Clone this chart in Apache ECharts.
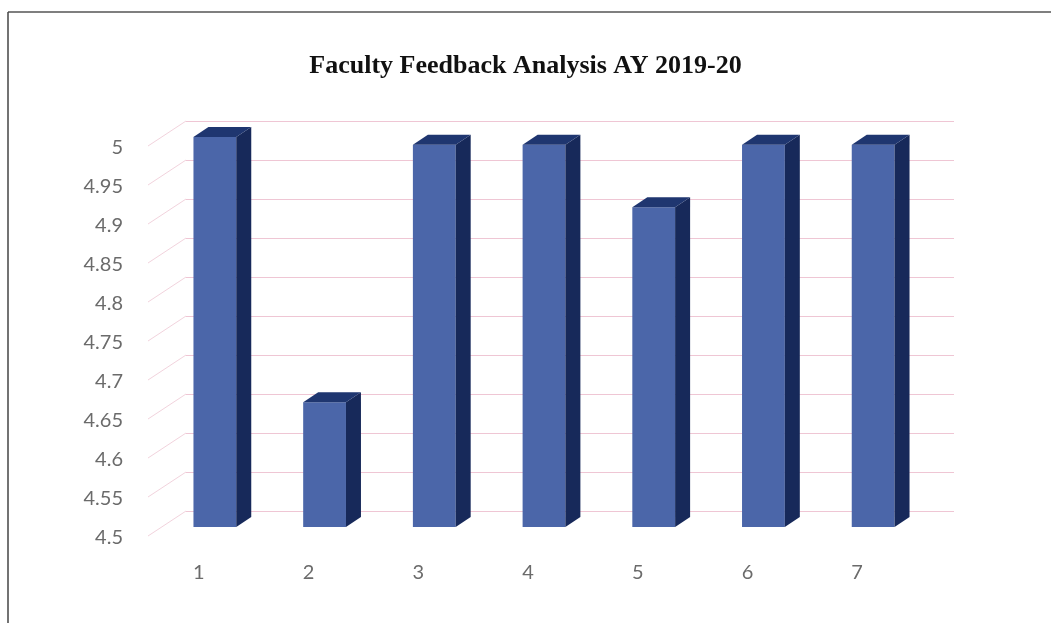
<!DOCTYPE html>
<html>
<head>
<meta charset="utf-8">
<script src="https://cdn.jsdelivr.net/npm/echarts@6/dist/echarts.min.js"></script>
<style>
html,body{margin:0;padding:0;background:#fff;}
#chart{width:1051px;height:623px;}
</style>
</head>
<body>
<div id="chart"></div>
<script>
const titleText = 'Faculty Feedback Analysis AY 2019-20';
const categories = ['1', '2', '3', '4', '5', '6', '7'];
const scores = [5.0, 4.66, 4.99, 4.99, 4.91, 4.99, 4.99];
const yTicks = [4.5, 4.55, 4.6, 4.65, 4.7, 4.75, 4.8, 4.85, 4.9, 4.95, 5.0];

const Y_MIN = 4.5, Y_MAX = 5.0, Y_STEP = 0.05;
const FRONT_DX = 16, FRONT_DY = -11;   // bar front face offset from front plane
const DEPTH_DX = 15, DEPTH_DY = -10;   // bar depth
const WALL_DX = 42, WALL_DY = -27;     // back wall offset

const chart = echarts.init(document.getElementById('chart'));

function barItem(params, api) {
  const idx = api.value(0), val = api.value(1);
  const top = api.coord([idx, val]);
  const base = api.coord([idx, Y_MIN]);
  const band = api.size([1, 0])[0];
  const w = band * 0.39;
  const x = top[0] - w / 2 + FRONT_DX;
  const y = top[1] + FRONT_DY;
  const h = base[1] - top[1];
  return {
    type: 'group',
    children: [
      { type: 'rect', shape: { x: x, y: y, width: w, height: h },
        style: { fill: '#4b66a9' } },
      { type: 'polygon', shape: { points: [[x + w, y], [x + w + DEPTH_DX, y + DEPTH_DY], [x + w + DEPTH_DX, y + h + DEPTH_DY], [x + w, y + h]] },
        style: { fill: '#17295a' } },
      { type: 'polygon', shape: { points: [[x, y], [x + DEPTH_DX, y + DEPTH_DY], [x + w + DEPTH_DX, y + DEPTH_DY], [x + w, y]] },
        style: { fill: '#1f3670' } }
    ]
  };
}

function wallItem(params, api) {
  const cs = params.coordSys;
  const p = api.coord([0, api.value(0)]);
  const x0 = cs.x;
  return {
    type: 'line',
    shape: { x1: x0 + 4, y1: p[1] - 2, x2: x0 + WALL_DX, y2: p[1] + WALL_DY },
    style: { stroke: '#f2d3dd', lineWidth: 1 }
  };
}

chart.setOption({
  animation: false,
  backgroundColor: '#ffffff',
  title: {
    text: titleText,
    left: 'center',
    top: 48,
    textStyle: { fontFamily: 'Liberation Serif', fontWeight: 'bold', fontSize: 26, color: '#111' }
  },
  graphic: [
    { type: 'line', shape: { x1: 8, y1: 12, x2: 1051, y2: 12 }, style: { stroke: '#555', lineWidth: 1.5 } },
    { type: 'line', shape: { x1: 8, y1: 12, x2: 8, y2: 623 }, style: { stroke: '#444', lineWidth: 1.5 } }
  ],
  grid: [
    { left: 144, right: 139, top: 148, bottom: 85 },
    { left: 144 + WALL_DX, right: 139 - WALL_DX, top: 148 + WALL_DY, bottom: 85 - WALL_DY }
  ],
  xAxis: [
    { type: 'category', gridIndex: 0, data: categories,
      axisLine: { show: false }, axisTick: { show: false },
      axisLabel: { margin: 25, fontFamily: 'Lato', fontSize: 20, color: '#6b6b6b' } },
    { type: 'category', gridIndex: 1, data: categories, show: false }
  ],
  yAxis: [
    { type: 'value', gridIndex: 0, min: Y_MIN, max: Y_MAX, interval: Y_STEP,
      axisLine: { show: false }, axisTick: { show: false }, splitLine: { show: false },
      axisLabel: { margin: 21, fontFamily: 'Lato', fontSize: 20, color: '#6b6b6b' } },
    { type: 'value', gridIndex: 1, min: Y_MIN, max: Y_MAX, interval: Y_STEP,
      axisLine: { show: false }, axisTick: { show: false }, axisLabel: { show: false },
      splitLine: { show: true, lineStyle: { color: '#efc6d4', width: 1 } } }
  ],
  series: [
    { type: 'custom', xAxisIndex: 0, yAxisIndex: 0, renderItem: wallItem,
      data: yTicks.map(v => [v]), encode: { y: 0 }, silent: true, z: 1 },
    { type: 'custom', xAxisIndex: 0, yAxisIndex: 0, renderItem: barItem,
      data: scores.map((v, i) => [i, v]), encode: { x: 0, y: 1 }, z: 5 }
  ]
});
</script>
</body>
</html>
